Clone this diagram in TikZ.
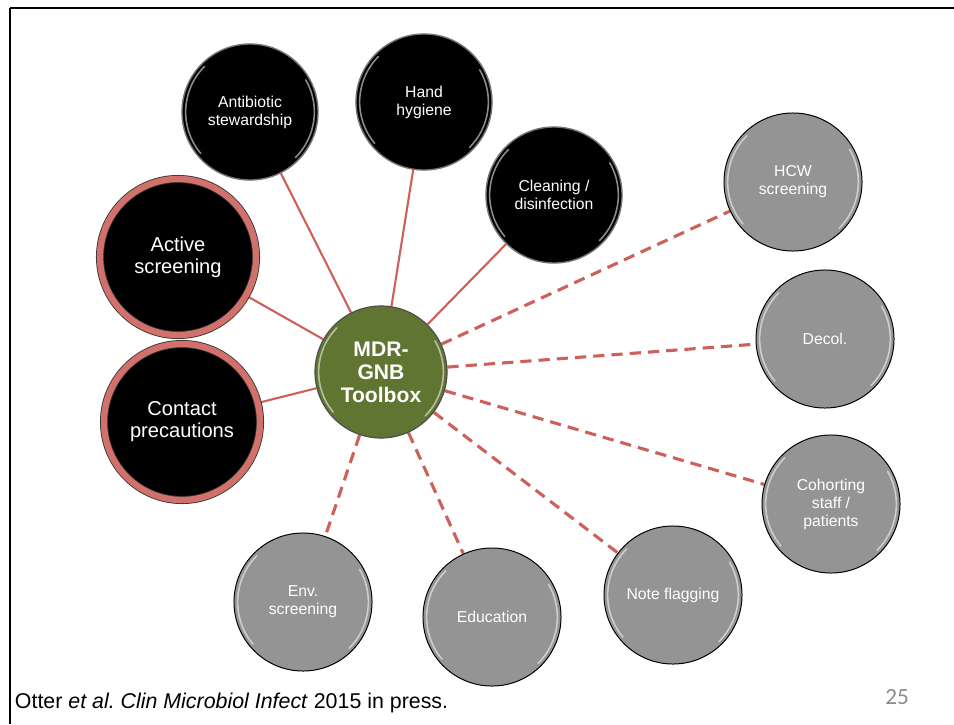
\documentclass[tikz,border=0pt]{standalone}
\usepackage{fontspec}
\setmainfont{Liberation Sans}
\newfontfamily\slidenum{Carlito}
\usetikzlibrary{calc,backgrounds}

\definecolor{linkred}{RGB}{205,96,90}
\definecolor{toolgreen}{RGB}{96,117,50}
\definecolor{optgray}{RGB}{148,148,148}

\tikzset{
  gloss/.style={path picture={
    \draw[white,line width=1.1pt,opacity=.55,line cap=round]
      let \p1=(path picture bounding box.east), \p2=(path picture bounding box.center),
          \n1={\x1-\x2-2.6pt} in
      (\p2) ++(135:\n1) arc[start angle=135,end angle=220,radius=\n1]
      (\p2) ++(-45:\n1) arc[start angle=-45,end angle=30,radius=\n1];
  }},
  hub/.style={circle,fill=toolgreen,draw=black!70,line width=0.8pt,minimum size=3.3cm,
    text=white,align=center,font=\bfseries\fontsize{15}{16.3}\selectfont,gloss},
  core/.style={circle,fill=black,draw=black!55,line width=1pt,minimum size=3.4cm,
    text=white,align=center,font=\fontsize{11.2}{12.8}\selectfont,gloss},
  keyring/.style={circle,fill=black,draw=black!80,line width=0.6pt,
    double=linkred!90!white,double distance=4.5pt,minimum size=3.9cm,
    text=white,align=center,font=\fontsize{14.3}{15.6}\selectfont},
  extra/.style={circle,fill=optgray,draw=black,line width=0.7pt,minimum size=3.45cm,
    text=white,align=center,font=\fontsize{11.2}{12.8}\selectfont,gloss},
  solidlink/.style={draw=linkred,line width=1.5pt},
  dashlink/.style={draw=linkred,line width=2.2pt,dash pattern=on 8pt off 5pt}
}

\begin{document}
\begin{tikzpicture}[x=0.025cm,y=-0.025cm]
  \useasboundingbox (0,0) rectangle (954,724);
  % slide frame
  \coordinate (tl) at (10,8);
  \draw[line width=1.5pt] (tl) -- (954,8);
  \draw[line width=0.8pt] (tl) -- (10,724);

  % toolbox
  \node[hub] (mdr) at (381,372) {MDR-\\GNB\\Toolbox};
  % core measures
  \node[core] (abx) at (250,112) {Antibiotic\\stewardship};
  \node[core] (hand) at (424,102) {Hand\\hygiene};
  \node[core] (clean) at (554,195) {Cleaning /\\disinfection};
  \node[keyring] (act) at (178,257) {Active\\screening};
  \node[keyring] (cont) at (182,422) {Contact\\precautions};
  % optional measures
  \node[extra] (hcw) at (793,182) {HCW\\screening};
  \node[extra] (decol) at (825,339) {Decol.};
  \node[extra] (cohort) at (831,504) {Cohorting\\staff /\\patients};
  \node[extra] (note) at (673,595) {Note flagging};
  \node[extra] (edu) at (492,617) {Education};
  \node[extra] (env) at (303,602) {Env.\\screening};

  \begin{scope}[on background layer]
    \foreach \n in {abx,hand,clean,act,cont}
      \draw[solidlink] (mdr) -- (\n);
    \foreach \n in {hcw,decol,cohort,note,edu,env}
      \draw[dashlink] (mdr) -- (\n);
  \end{scope}

  \node[anchor=west,font=\fontsize{15.2}{16}\selectfont] (cite) at (10,703)
    {Otter \textit{et al.\ Clin Microbiol Infect} 2015 in press.};
  \node[text=black!45,font=\slidenum\fontsize{16.5}{18}\selectfont] (page) at (897,697) {25};
\end{tikzpicture}
\end{document}
